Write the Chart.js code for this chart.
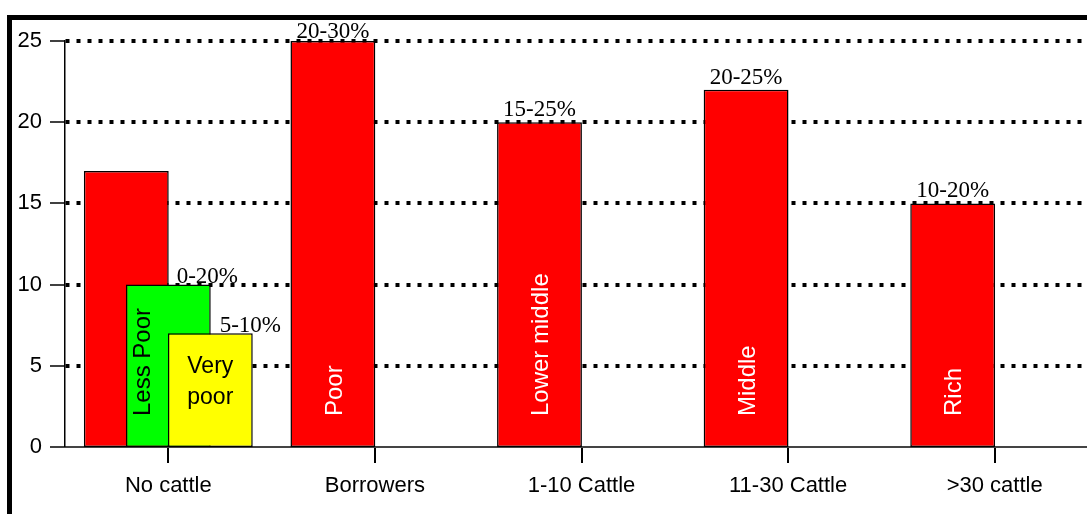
<!DOCTYPE html>
<html><head><meta charset="utf-8">
<script src="https://cdn.jsdelivr.net/npm/chart.js@4.4.0/dist/chart.umd.min.js"></script>
<style>
html,body{margin:0;padding:0;background:#fff;overflow:hidden;width:1087px;height:514px;}
#wrap{position:relative;width:1087px;height:514px;overflow:hidden;background:#fff;}
#c{position:absolute;left:0;top:0;}
#frame{position:absolute;left:7px;top:15px;width:2000px;height:1000px;border-top:5px solid #000;border-left:5px solid #000;pointer-events:none;}
</style></head><body>
<div id="wrap"><canvas id="c" width="1100" height="514"></canvas><div id="frame"></div></div>
<script>
// ---- data ----
const categories = ['No cattle', 'Borrowers', '1-10 Cattle', '11-30 Cattle', '>30 cattle'];
const mainValues = [17, 25, 20, 22, 15];
const lessPoorValues = [10, null, null, null, null];
const veryPoorValues = [7, null, null, null, null];
const mainRanges = ['', '20-30%', '15-25%', '20-25%', '10-20%'];
const lessPoorRanges = ['0-20%', '', '', '', ''];
const veryPoorRanges = ['5-10%', '', '', '', ''];
const mainGroups = ['', 'Poor', 'Lower middle', 'Middle', 'Rich'];
const lessPoorGroups = ['Less Poor', '', '', '', ''];
const veryPoorGroups = [['Very', 'poor'], '', '', '', ''];
const yTicks = [0, 5, 10, 15, 20, 25];

// ---- label / draw-order plugin ----
const barLabels = {
  id: 'barLabels',
  beforeDatasetsDraw(chart) {
    chart.data.datasets.forEach((ds, i) => {
      const meta = chart.getDatasetMeta(i);
      if (meta.hidden) return;
      if (chart._drawDataset) chart._drawDataset(meta); else meta.controller.draw();
    });
    return false;
  },
  afterDraw(chart) {
    const ctx = chart.ctx;
    const base = chart.scales.y.getPixelForValue(0);
    chart.data.datasets.forEach((ds, i) => {
      const meta = chart.getDatasetMeta(i);
      const st = ds.labelStyle;
      meta.data.forEach((bar, j) => {
        if (ds.data[j] == null) return;
        const top = ds.topLabels[j];
        if (top) {
          ctx.save();
          ctx.font = '23px "Liberation Serif"';
          ctx.fillStyle = '#000';
          ctx.textAlign = 'center';
          ctx.textBaseline = 'alphabetic';
          const y = Math.max(bar.y - st.topGap, 38);
          ctx.fillText(top, bar.x + st.topDx, y);
          ctx.restore();
        }
        const inner = ds.innerLabels[j];
        if (inner) {
          ctx.save();
          ctx.fillStyle = st.innerColor;
          if (Array.isArray(inner)) {
            ctx.font = '23px "Liberation Sans"';
            ctx.textAlign = 'center';
            ctx.textBaseline = 'middle';
            inner.forEach((line, k) => ctx.fillText(line, bar.x, bar.y + 33 + k * 31));
          } else {
            ctx.font = '24px "Liberation Sans"';
            ctx.translate(bar.x + st.innerDx, base - 31);
            ctx.rotate(-Math.PI / 2);
            ctx.textAlign = 'left';
            ctx.textBaseline = 'middle';
            ctx.fillText(inner, 0, 0);
          }
          ctx.restore();
        }
      });
    });
  }
};

const common = { borderColor: '#000', borderWidth: 1.5, borderSkipped: false, categoryPercentage: 0.61, barPercentage: 2.02 };

new Chart(document.getElementById('c'), {
  type: 'bar',
  data: {
    labels: categories,
    datasets: [
      Object.assign({ data: mainValues, backgroundColor: '#ff0000', topLabels: mainRanges, innerLabels: mainGroups,
        labelStyle: { topGap: 6, topDx: 0, innerDx: 2, innerColor: '#fff' } }, common),
      Object.assign({ data: lessPoorValues, backgroundColor: '#00ff00', topLabels: lessPoorRanges, innerLabels: lessPoorGroups,
        labelStyle: { topGap: 2, topDx: 39, innerDx: -25, innerColor: '#000' } }, common),
      Object.assign({ data: veryPoorValues, backgroundColor: '#ffff00', topLabels: veryPoorRanges, innerLabels: veryPoorGroups,
        labelStyle: { topGap: 1, topDx: 40, innerDx: 0, innerColor: '#000' } }, common)
    ]
  },
  options: {
    responsive: false,
    animation: false,
    devicePixelRatio: 1,
    layout: { padding: { top: 41, right: 2, left: 0, bottom: 0 } },
    plugins: { legend: { display: false }, tooltip: { enabled: false } },
    scales: {
      x: {
        offset: true,
        grid: { offset: false, drawOnChartArea: false, drawTicks: true, tickLength: 16, tickColor: '#000', tickWidth: 2, lineWidth: 2 },
        border: { display: true, color: '#444', width: 2 },
        ticks: { color: '#000', padding: 10, font: { family: 'Liberation Sans', size: 22 }, maxRotation: 0, autoSkip: false },
        afterFit(s) { s.height = 67; }
      },
      y: {
        min: 0, max: 25,
        afterBuildTicks(s) { s.ticks = yTicks.map(v => ({ value: v })); },
        grid: {
          drawOnChartArea: true, drawTicks: true, tickLength: 15, tickColor: '#000', tickWidth: 1.5, color: '#000',
          lineWidth: (c) => (c.tick && c.tick.value === 0) ? 0 : 4
        },
        border: { display: true, color: '#000', width: 1.5, dash: [4, 7] },
        ticks: { color: '#000', padding: 8, font: { family: 'Liberation Sans', size: 22 } },
        afterFit(s) { s.width = 65; }
      }
    }
  },
  plugins: [barLabels]
});
</script>
</body></html>
